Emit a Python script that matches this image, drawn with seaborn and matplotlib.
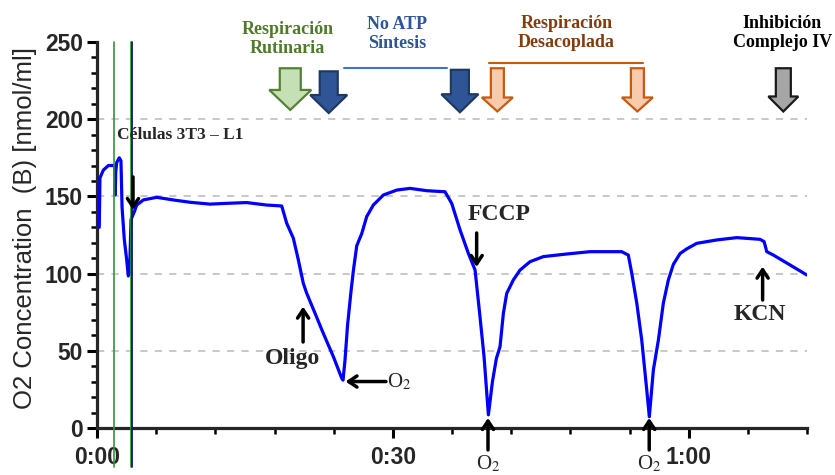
import numpy as np
import pandas as pd
import matplotlib
matplotlib.use("Agg")
import matplotlib.pyplot as plt
import seaborn as sns
from matplotlib.patches import Polygon
from matplotlib.transforms import ScaledTranslation
from matplotlib.ticker import FixedLocator, MultipleLocator

# ---------------- data ----------------
time_min = [0.23, 0.30, 0.64, 1.15, 1.59, 1.80, 1.85, 1.90, 2.00, 2.26,
            2.43, 2.54, 2.77, 3.01, 3.17, 3.30, 3.45, 3.78, 4.03, 4.70,
            6.05, 7.74, 9.43, 11.46, 13.15, 15.18, 17.21, 18.73, 19.24, 19.91,
            20.42, 20.92, 21.27, 22.11, 22.95, 23.97, 24.82, 24.95, 25.15, 25.40,
            25.75, 26.00, 26.34, 26.85, 27.35, 28.02, 29.04, 30.40, 31.74, 33.44,
            35.29, 35.97, 36.82, 37.66, 38.34, 38.84, 39.25, 39.69, 40.10, 40.50,
            40.87, 41.21, 41.55, 42.22, 42.90, 43.91, 45.26, 47.64, 50.00, 53.21,
            53.88, 54.23, 54.74, 55.24, 55.75, 56.01, 56.42, 56.93, 57.43, 57.94,
            58.45, 59.13, 59.80, 60.82, 62.85, 64.88, 67.24, 67.65, 67.92, 68.59,
            70.28, 71.98]
o2_conc = [130, 162, 167, 170, 170, 170, 151, 166, 172, 175,
           173, 143, 122, 109, 98.5, 100, 135, 140, 144.4, 147.7,
           149.4, 147.7, 146.2, 145, 145.5, 146, 144.4, 143.8, 132.6, 122.9,
           108.8, 93.7, 87.2, 74.3, 61.3, 46.2, 32.2, 31, 44, 66,
           88, 102, 118, 126, 136.9, 144.4, 150.9, 154.1, 155.2, 153.7,
           153, 145.5, 128.2, 113.1, 102.3, 72, 46.2, 8.5, 30, 45,
           52.7, 74.3, 87.2, 95.9, 102.3, 107.7, 111, 112.7, 114.2, 114.2,
           112, 100.2, 80.8, 57, 24.6, 7.3, 37.6, 57, 80.8, 95.9,
           106, 113, 116, 119.6, 121.8, 123.3, 122.2, 120.7, 114.2, 112,
           105.6, 99.1]

xtick_values = [0, 30, 60]
xtick_labels = ["0:00", "0:30", "1:00"]
ytick_values = [0, 50, 100, 150, 200, 250]
grid_values = [50, 100, 150, 200]
green_marks = [1.72, 3.40]
navy_marks = [3.53]

# ---------------- style ----------------
sns.set_style("ticks")
plt.rcParams['font.family'] = ['Liberation Sans', 'DejaVu Sans']
plt.rcParams['mathtext.fontset'] = 'stix'
SERIF = ['Liberation Serif', 'DejaVu Serif']

fig = plt.figure(figsize=(8.35, 4.75), dpi=100)
ax = fig.add_axes([97 / 835, 1 - 428 / 475, 710 / 835, 386 / 475])

df = pd.DataFrame({"t": time_min, "o2": o2_conc})
sns.lineplot(data=df, x="t", y="o2", ax=ax, color="#0000ff", lw=2.3,
             estimator=None, sort=False, zorder=5)

ax.set_xlim(0, 72)
ax.set_ylim(0, 250)

for g in grid_values:
    ax.axhline(g, color="#c4c4c4", lw=1.3, ls=(0, (4, 4)), zorder=0)

for xm in green_marks:
    ax.plot([xm, xm], [-25, 250], color="#2f9a2f", lw=1.2, clip_on=False, zorder=6)
for xm in navy_marks:
    ax.plot([xm, xm], [-25, 250], color="#14147a", lw=1.3, clip_on=False, zorder=6)

sns.despine(ax=ax)
for s in ["left", "bottom"]:
    ax.spines[s].set_linewidth(2.3)

ax.set_xticks(xtick_values)
ax.set_xticklabels(xtick_labels, fontsize=16.5, fontweight="bold")
ax.set_yticks(ytick_values)
ax.set_yticklabels([str(v) for v in ytick_values], fontsize=16.5, fontweight="bold")
ax.xaxis.set_minor_locator(MultipleLocator(6))
ax.yaxis.set_minor_locator(MultipleLocator(10))
ax.tick_params(axis="both", which="major", length=7, width=2.2, pad=3, color="black")
ax.tick_params(axis="x", which="major", pad=6)
ax.tick_params(axis="both", which="minor", length=4, width=1.8, color="black")
ax.set_xlabel("")
ax.set_ylabel("O2 Concentration  (B) [nmol/ml]", fontsize=18.5)
ax.yaxis.set_label_coords(-0.084, 0.518)

# ---------------- annotations ----------------
def block_arrow(x, y_top, y_tip, shaft_w, head_w, head_len, fc, ec):
    # shape in pixels (1 px = 0.01 in), anchored at data (x, y_tip)
    top = ax.transData.transform((x, y_top))[1] - ax.transData.transform((x, y_tip))[1]
    L = top / 100.0
    sw, hw, hl = shaft_w / 200.0, head_w / 200.0, head_len / 100.0
    verts = [(-sw, L), (sw, L), (sw, hl), (hw, hl), (0, 0), (-hw, hl), (-sw, hl)]
    tr = fig.dpi_scale_trans + ScaledTranslation(x, y_tip, ax.transData)
    p = Polygon(verts, closed=True, fc=fc, ec=ec, lw=1.6, transform=tr, clip_on=False, zorder=7)
    fig.add_artist(p)

block_arrow(19.6, 233, 206, 21, 42, 20, "#c5e0b4", "#548235")
block_arrow(23.5, 231, 204, 18, 37, 18, "#2f5597", "#1f3864")
block_arrow(36.8, 232, 204.5, 18, 37, 18, "#2f5597", "#1f3864")
block_arrow(40.6, 233, 205, 13, 31, 14, "#f8cbad", "#c55a11")
block_arrow(54.8, 233, 205, 13, 31, 14, "#f8cbad", "#c55a11")
block_arrow(69.6, 233, 205, 15, 30, 15, "#a6a6a6", "#1a1a1a")

ax.plot([25.05, 35.5], [233.2, 233.2], color="#4472c4", lw=1.5, clip_on=False)
ax.plot([39.8, 55.4], [236.4, 236.4], color="#c55a11", lw=1.5, clip_on=False)

hdr = dict(fontsize=13, fontweight="bold", family=SERIF, ha="center", va="center",
           linespacing=1.15)
ax.text(19.3, 252, "Respiración\nRutinaria", color="#4e7a2a", **hdr)
ax.text(30.4, 255, "No ATP\nSíntesis", color="#2f5597", **hdr)
ax.text(47.6, 256, "Respiración\nDesacoplada", color="#843c0c", **hdr)
ax.text(69.5, 256, "Inhibición\nComplejo IV", color="black", **hdr)

ax.text(8.4, 189.8, "Células 3T3 – L1", fontsize=12.5, fontweight="bold", family=SERIF,
        ha="center", va="center", zorder=8)

aprops = dict(arrowstyle="->,head_length=0.6,head_width=0.4", lw=2.5, color="black",
              shrinkA=0, shrinkB=0)
def arr(tail, tip):
    ax.annotate("", xy=tip, xytext=tail, arrowprops=aprops, annotation_clip=False, zorder=8)

arr((3.65, 162.6), (3.65, 141.2))
arr((20.9, 55.7), (20.9, 78.6))
arr((29.3, 30.1), (25.2, 30.1))
arr((38.5, 126.3), (38.5, 104.3))
arr((39.65, -14.2), (39.65, 6.5))
arr((56.0, -14.2), (56.0, 6.5))
arr((67.5, 82.9), (67.5, 104.5))

big = dict(fontsize=17, fontweight="bold", family=SERIF, ha="center", va="center")
ax.text(19.8, 45.3, "Oligo", **big)
ax.text(40.8, 138, "FCCP", **big)
ax.text(67.2, 73.2, "KCN", **big)

o2s = dict(fontsize=15, family=SERIF, va="center")
ax.text(29.45, 30.1, "O$_2$", ha="left", **o2s)
ax.text(39.65, -23.5, "O$_2$", ha="center", **o2s)
ax.text(56.0, -23.5, "O$_2$", ha="center", **o2s)

fig.savefig("out.png", dpi=100)
